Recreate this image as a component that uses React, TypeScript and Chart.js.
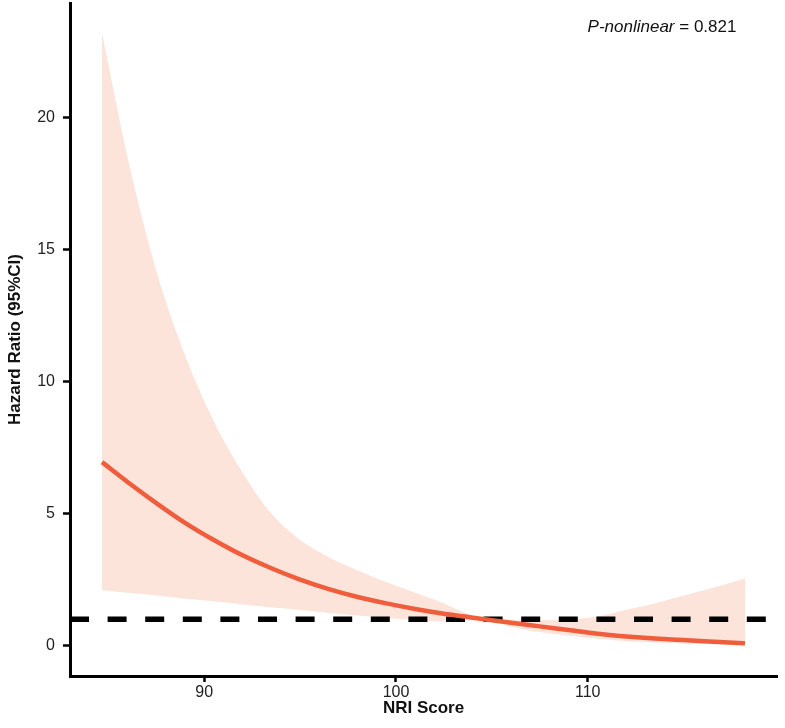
import React, { useEffect, useRef } from 'react';
import { Chart, registerables } from 'chart.js';

Chart.register(...registerables);

// NRI score grid and the fitted spline with its 95% CI
const nriScore = [84.67, 86, 87.5, 89, 90.5, 92, 93.5, 95, 96.5, 98, 99.5, 101, 102.5, 103.6, 104.6, 106, 107.5, 109, 110.5, 112, 113.5, 115, 116.6, 118.2];
const hazardRatio = [6.95, 6.2, 5.4, 4.65, 4.0, 3.42, 2.93, 2.5, 2.14, 1.84, 1.6, 1.39, 1.21, 1.1, 1.0, 0.87, 0.73, 0.59, 0.45, 0.35, 0.27, 0.21, 0.15, 0.09];
const ciUpper = [23.2, 18.5, 14.2, 11.0, 8.5, 6.55, 5.0, 4.0, 3.35, 2.85, 2.4, 2.0, 1.6, 1.25, 1.0, 0.97, 0.96, 1.0, 1.1, 1.36, 1.6, 1.9, 2.2, 2.55];
const ciLower = [2.1, 2.0, 1.9, 1.78, 1.68, 1.56, 1.45, 1.35, 1.24, 1.14, 1.05, 0.97, 0.92, 0.95, 1.0, 0.72, 0.52, 0.38, 0.26, 0.17, 0.12, 0.08, 0.05, 0.03];

// reference line HR = 1 across the x range
const xRange = [83.0, 119.87];
const yRange = [-1.15, 24.34];
const refY = [1, 1];

const xTicks = [90, 100, 110];
const yTicks = [0, 5, 10, 15, 20];

const pLabel = 'P-nonlinear';
const pValue = ' = 0.821';

const FONT = '"Liberation Sans", Arial, sans-serif';

const toPoints = (xs: number[], ys: number[]) => xs.map((x, i) => ({ x, y: ys[i] }));

const annotationPlugin = {
  id: 'pNonlinear',
  afterDraw(chart: any) {
    const { ctx } = chart;
    ctx.save();
    ctx.textBaseline = 'middle';
    ctx.fillStyle = '#111';
    ctx.font = `italic 17px ${FONT}`;
    const w1 = ctx.measureText(pLabel).width;
    ctx.font = `17px ${FONT}`;
    const w2 = ctx.measureText(pValue).width;
    const startX = 662 - (w1 + w2) / 2;
    ctx.font = `italic 17px ${FONT}`;
    ctx.fillText(pLabel, startX, 27);
    ctx.font = `17px ${FONT}`;
    ctx.fillText(pValue, startX + w1, 27);
    ctx.restore();
  },
};

const App: React.FC = () => {
  const chartRef = useRef<HTMLCanvasElement>(null);
  const chartInstance = useRef<Chart | null>(null);

  useEffect(() => {
    document.body.style.margin = '0';
    if (!chartRef.current) return;
    if (chartInstance.current) {
      chartInstance.current.destroy();
    }
    const ctx = chartRef.current.getContext('2d');
    if (!ctx) return;

    chartInstance.current = new Chart(ctx, {
      type: 'line',
      data: {
        datasets: [
          {
            label: 'Upper CI',
            data: toPoints(nriScore, ciUpper),
            borderWidth: 0,
            borderColor: 'rgba(0,0,0,0)',
            backgroundColor: '#FCE4DA',
            pointRadius: 0,
            cubicInterpolationMode: 'monotone',
            fill: '+1',
            order: 3,
          },
          {
            label: 'Lower CI',
            data: toPoints(nriScore, ciLower),
            borderWidth: 0,
            borderColor: 'rgba(0,0,0,0)',
            pointRadius: 0,
            cubicInterpolationMode: 'monotone',
            fill: false,
            order: 4,
          },
          {
            label: 'HR',
            data: toPoints(nriScore, hazardRatio),
            borderColor: '#EF5D3C',
            borderWidth: 4.5,
            pointRadius: 0,
            cubicInterpolationMode: 'monotone',
            fill: false,
            order: 0,
          },
          {
            label: 'Reference',
            data: toPoints(xRange, refY),
            borderColor: '#000',
            borderWidth: 5.5,
            borderDash: [19, 18.6],
            borderCapStyle: 'butt',
            pointRadius: 0,
            fill: false,
            order: 1,
          },
        ],
      },
      options: {
        animation: false,
        responsive: true,
        maintainAspectRatio: false,
        layout: { padding: { top: 3, right: 8, left: 0, bottom: 0 } },
        plugins: {
          legend: { display: false },
          tooltip: { enabled: false },
        },
        scales: {
          x: {
            type: 'linear',
            min: xRange[0],
            max: xRange[1],
            afterBuildTicks: (scale: any) => {
              scale.ticks = xTicks.map((v) => ({ value: v }));
            },
            afterFit: (scale: any) => {
              scale.height = 52;
              scale.paddingLeft = 0;
              scale.paddingRight = 0;
            },
            border: { display: true, color: '#000', width: 3 },
            grid: { display: true, drawOnChartArea: false, drawTicks: true, tickLength: 6, tickWidth: 2.5, tickColor: '#000' },
            ticks: { color: '#222', padding: 1, font: { family: FONT, size: 16 } },
            title: {
              display: true,
              text: 'NRI Score',
              color: '#111',
              font: { family: FONT, size: 17, weight: 'bold' },
              padding: { top: 0, bottom: 9 },
            },
          },
          y: {
            type: 'linear',
            min: yRange[0],
            max: yRange[1],
            afterBuildTicks: (scale: any) => {
              scale.ticks = yTicks.map((v) => ({ value: v }));
            },
            afterFit: (scale: any) => {
              scale.width = 70;
              scale.paddingTop = 0;
              scale.paddingBottom = 0;
            },
            border: { display: true, color: '#000', width: 3 },
            grid: { display: true, drawOnChartArea: false, drawTicks: true, tickLength: 7, tickWidth: 2.5, tickColor: '#000' },
            ticks: { color: '#222', padding: 8, font: { family: FONT, size: 16 } },
            title: {
              display: true,
              text: 'Hazard Ratio (95%CI)',
              color: '#111',
              font: { family: FONT, size: 17, weight: 'bold' },
              padding: { top: 5, bottom: 0 },
            },
          },
        },
      },
      plugins: [annotationPlugin],
    });

    return () => {
      if (chartInstance.current) {
        chartInstance.current.destroy();
        chartInstance.current = null;
      }
    };
  }, []);

  return (
    <div style={{ position: 'relative', width: 785, height: 728 }}>
      <canvas ref={chartRef}></canvas>
    </div>
  );
};

export default App;
